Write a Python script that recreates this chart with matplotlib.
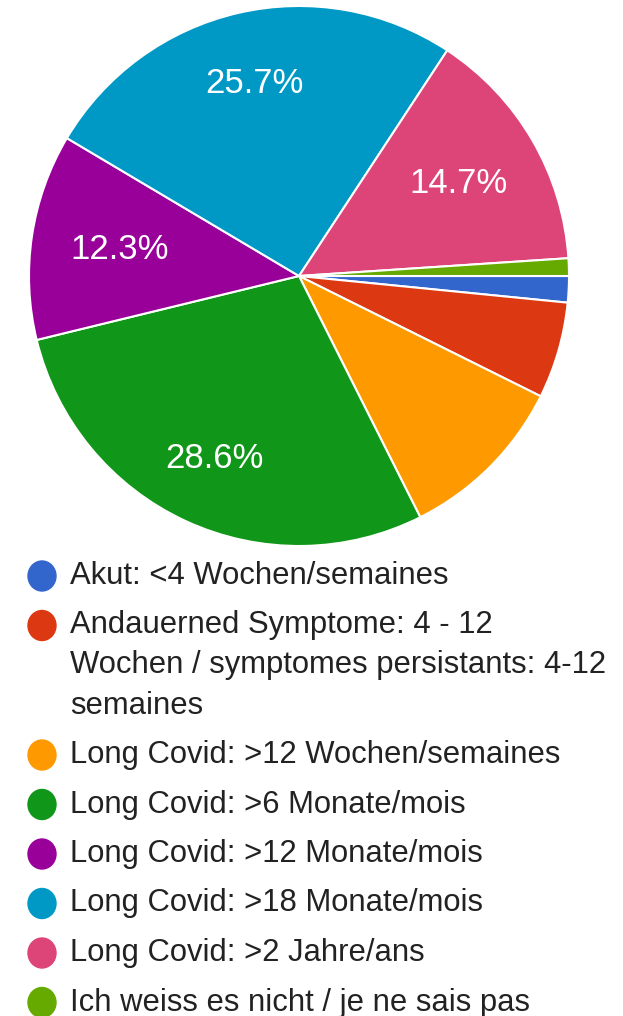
import matplotlib
matplotlib.use("Agg")
import matplotlib.pyplot as plt
from matplotlib.patches import Ellipse
import numpy as np

# ---- data ----
categories = [
    "Akut: <4 Wochen/semaines",
    "Andauerned Symptome: 4 - 12\nWochen / symptomes persistants: 4-12\nsemaines",
    "Long Covid: >12 Wochen/semaines",
    "Long Covid: >6 Monate/mois",
    "Long Covid: >12 Monate/mois",
    "Long Covid: >18 Monate/mois",
    "Long Covid: >2 Jahre/ans",
    "Ich weiss es nicht / je ne sais pas",
]
counts = [6, 22, 39, 109, 47, 98, 56, 4]
colors = ["#3366cc", "#dc3912", "#ff9900", "#109618",
          "#990099", "#0099c6", "#dd4477", "#66aa00"]

W, H = 623, 1016
fig = plt.figure(figsize=(W / 100, H / 100), dpi=100)
fig.patch.set_facecolor("white")
plt.rcParams["font.family"] = ["Liberation Sans", "DejaVu Sans"]


def fx(x):
    return x / W


def fy(y):
    return 1 - y / H


# pie axes: center (299, 276), radius 270 px
cx, cy, R = 299, 276, 270
ax = fig.add_axes([fx(cx - R), fy(cy + R), 2 * R / W, 2 * R / H])

wedges, _ = ax.pie(counts, colors=colors, startangle=0, counterclock=False,
                   radius=1.0, center=(0, 0),
                   wedgeprops=dict(edgecolor="white", linewidth=1.5))
ax.set_xlim(-1, 1)
ax.set_ylim(-1, 1)
ax.set_aspect("equal")
ax.axis("off")

total = sum(counts)
for w, c in zip(wedges, counts):
    span = w.theta2 - w.theta1
    pct = 100 * c / total
    if pct < 12:
        continue
    mid = np.deg2rad((w.theta1 + w.theta2) / 2)
    r = 0.62 + 0.0012 * span
    ax.text(r * np.cos(mid), r * np.sin(mid), f"{pct:.1f}%",
            ha="center", va="center", color="white", fontsize=25)

# legend
fs = 22.3
line_h = 40
y = 576
for cat, col in zip(categories, colors):
    fig.patches.append(Ellipse((fx(42), fy(y)), 28 / W, 30 / H,
                               transform=fig.transFigure, color=col))
    for i, line in enumerate(cat.split("\n")):
        fig.text(fx(70), fy(y + i * line_h), line, ha="left", va="center",
                 fontsize=fs, color="#222222")
    y += line_h * (len(cat.split("\n")) - 1) + 49.5

fig.savefig("out.png", dpi=100, facecolor="white")
